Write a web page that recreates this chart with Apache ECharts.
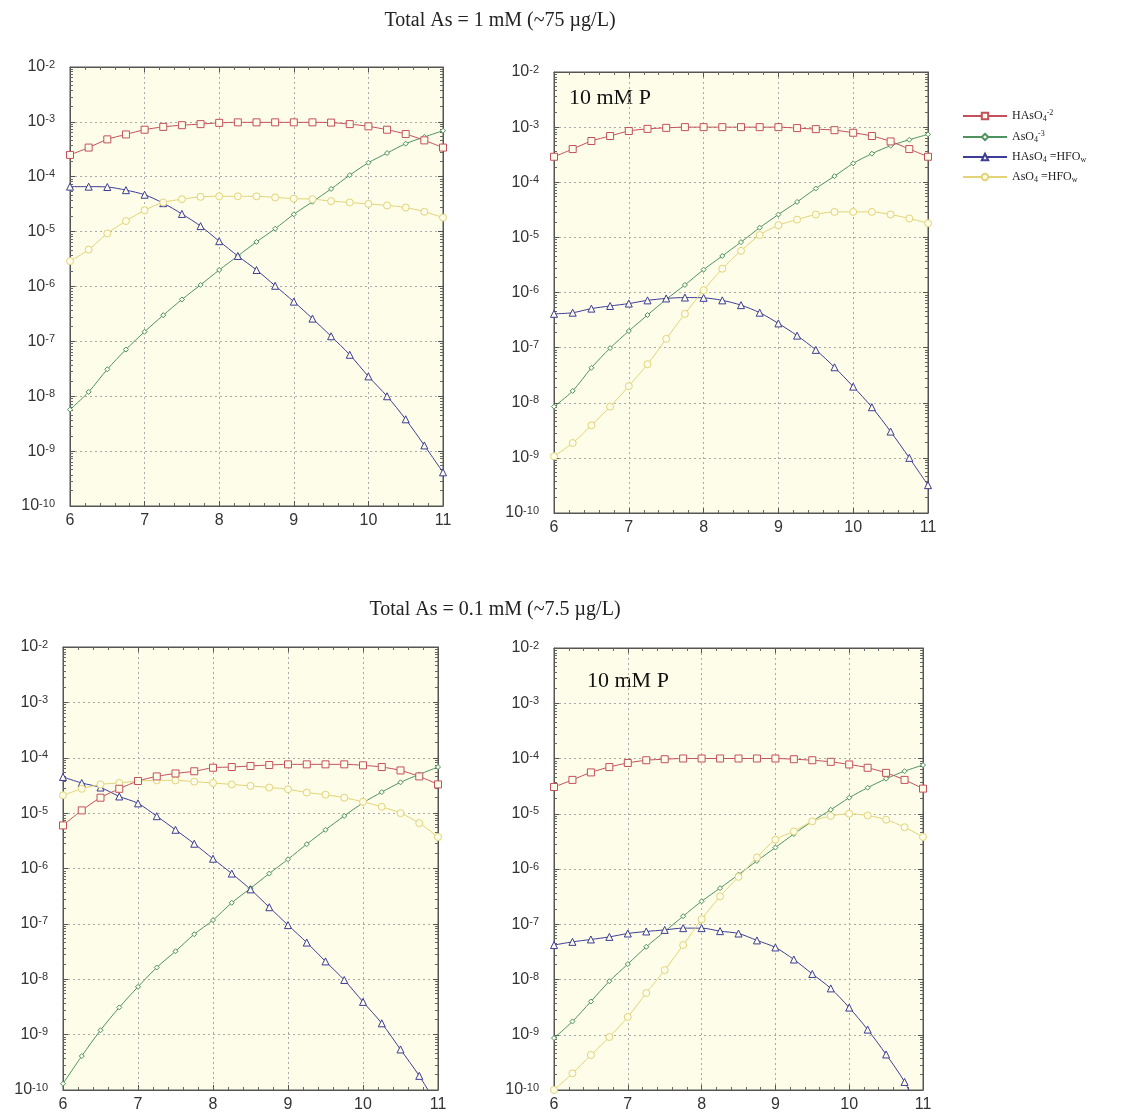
<!DOCTYPE html>
<html>
<head>
<meta charset="utf-8">
<script src="https://cdn.jsdelivr.net/npm/echarts@6/dist/echarts.min.js"></script>
<style>
html,body{margin:0;padding:0;background:#fff;}
#chart{width:1121px;height:1117px;}
</style>
</head>
<body>
<div id="chart"></div>
<script>
// pH values
const pH = [6, 6.25, 6.5, 6.75, 7, 7.25, 7.5, 7.75, 8, 8.25, 8.5, 8.75, 9, 9.25, 9.5, 9.75, 10, 10.25, 10.5, 10.75, 11];

const seriesNames = ['HAsO4-2', 'AsO4-3', 'HAsO4=HFOw', 'AsO4=HFOw'];
const panelTitles = ['Total As = 1 mM (~75 \u00b5g/L)', 'Total As = 0.1 mM (~7.5 \u00b5g/L)'];
const panelNote = '10 mM P';

// Panel 1: Total As = 1 mM, no P
const p1_HAsO4 = [2.5e-4, 3.4e-4, 4.8e-4, 5.9e-4, 7.2e-4, 8.1e-4, 8.7e-4, 9.1e-4, 9.6e-4, 9.8e-4, 9.8e-4, 9.8e-4, 9.8e-4, 9.8e-4, 9.7e-4, 9.1e-4, 8.3e-4, 7.2e-4, 6.0e-4, 4.6e-4, 3.4e-4];
const p1_AsO4 = [5.7e-9, 1.2e-8, 3.1e-8, 7.1e-8, 1.5e-7, 3.0e-7, 5.8e-7, 1.07e-6, 2.0e-6, 3.6e-6, 6.5e-6, 1.13e-5, 2.07e-5, 3.5e-5, 6.0e-5, 1.07e-4, 1.8e-4, 2.7e-4, 4.0e-4, 5.3e-4, 6.9e-4];
const p1_HAsO4_HFO = [6.6e-5, 6.6e-5, 6.5e-5, 5.7e-5, 4.7e-5, 3.3e-5, 2.1e-5, 1.26e-5, 6.7e-6, 3.6e-6, 2.0e-6, 1.03e-6, 5.3e-7, 2.6e-7, 1.24e-7, 5.7e-8, 2.3e-8, 1.0e-8, 3.8e-9, 1.27e-9, 4.1e-10];
const p1_AsO4_HFO = [2.9e-6, 4.7e-6, 9.3e-6, 1.56e-5, 2.45e-5, 3.4e-5, 3.9e-5, 4.3e-5, 4.4e-5, 4.4e-5, 4.4e-5, 4.2e-5, 4.0e-5, 3.9e-5, 3.6e-5, 3.4e-5, 3.2e-5, 3.0e-5, 2.75e-5, 2.3e-5, 1.8e-5];

// Panel 2: Total As = 1 mM, 10 mM P
const p2_HAsO4 = [2.9e-4, 4.0e-4, 5.6e-4, 6.9e-4, 8.5e-4, 9.3e-4, 9.7e-4, 1.0e-3, 1.0e-3, 1.0e-3, 1.0e-3, 1.0e-3, 1.0e-3, 9.6e-4, 9.2e-4, 8.8e-4, 7.9e-4, 6.9e-4, 5.5e-4, 4.0e-4, 2.9e-4];
const p2_AsO4 = [8.5e-9, 1.64e-8, 4.3e-8, 9.8e-8, 2.0e-7, 3.9e-7, 7.5e-7, 1.37e-6, 2.6e-6, 4.6e-6, 8.2e-6, 1.5e-5, 2.6e-5, 4.4e-5, 7.7e-5, 1.29e-4, 2.2e-4, 3.3e-4, 4.6e-4, 5.9e-4, 7.4e-4];
const p2_HAsO4_HFO = [4.1e-7, 4.3e-7, 5.1e-7, 5.7e-7, 6.3e-7, 7.2e-7, 7.8e-7, 8.1e-7, 8.0e-7, 7.2e-7, 5.9e-7, 4.3e-7, 2.75e-7, 1.65e-7, 9.1e-8, 4.4e-8, 1.96e-8, 8.3e-9, 3.0e-9, 1.0e-9, 3.2e-10];
const p2_AsO4_HFO = [1.07e-9, 1.86e-9, 3.9e-9, 8.5e-9, 2.0e-8, 5.0e-8, 1.44e-7, 4.1e-7, 1.1e-6, 2.7e-6, 5.7e-6, 1.1e-5, 1.66e-5, 2.1e-5, 2.6e-5, 2.9e-5, 2.9e-5, 2.9e-5, 2.6e-5, 2.2e-5, 1.8e-5];

// Panel 3: Total As = 0.1 mM, no P
const p3_HAsO4 = [6.0e-6, 1.12e-5, 1.9e-5, 2.75e-5, 3.8e-5, 4.6e-5, 5.2e-5, 5.7e-5, 6.6e-5, 6.8e-5, 7.1e-5, 7.4e-5, 7.6e-5, 7.6e-5, 7.6e-5, 7.6e-5, 7.3e-5, 6.8e-5, 5.9e-5, 4.6e-5, 3.3e-5];
const p3_AsO4 = [1.3e-10, 4.1e-10, 1.2e-9, 3.1e-9, 7.3e-9, 1.63e-8, 3.2e-8, 6.5e-8, 1.17e-7, 2.4e-7, 4.4e-7, 8.1e-7, 1.47e-6, 2.75e-6, 5.0e-6, 8.9e-6, 1.53e-5, 2.4e-5, 3.6e-5, 5.0e-5, 6.8e-5];
const p3_HAsO4_HFO = [4.5e-5, 3.5e-5, 2.9e-5, 2.0e-5, 1.5e-5, 8.8e-6, 5.0e-6, 2.8e-6, 1.5e-6, 8.1e-7, 4.2e-7, 2.0e-7, 9.5e-8, 4.6e-8, 2.1e-8, 9.7e-9, 3.9e-9, 1.6e-9, 5.4e-10, 1.8e-10, 5.0e-11];
const p3_AsO4_HFO = [2.1e-5, 2.75e-5, 3.3e-5, 3.5e-5, 3.8e-5, 3.9e-5, 3.9e-5, 3.7e-5, 3.5e-5, 3.3e-5, 3.1e-5, 2.9e-5, 2.7e-5, 2.35e-5, 2.15e-5, 1.9e-5, 1.6e-5, 1.3e-5, 1.0e-5, 6.6e-6, 3.7e-6];

// Panel 4: Total As = 0.1 mM, 10 mM P
const p4_HAsO4 = [3.05e-5, 4.1e-5, 5.6e-5, 7.0e-5, 8.3e-5, 9.3e-5, 9.7e-5, 1.0e-4, 1.0e-4, 1.0e-4, 1.0e-4, 1.0e-4, 1.0e-4, 9.7e-5, 9.3e-5, 8.7e-5, 7.8e-5, 6.8e-5, 5.5e-5, 4.1e-5, 2.85e-5];
const p4_AsO4 = [8.7e-10, 1.74e-9, 4.0e-9, 9.3e-9, 1.9e-8, 3.9e-8, 7.4e-8, 1.4e-7, 2.6e-7, 4.5e-7, 7.9e-7, 1.4e-6, 2.45e-6, 4.3e-6, 7.3e-6, 1.18e-5, 1.95e-5, 2.96e-5, 4.3e-5, 5.9e-5, 7.6e-5];
const p4_HAsO4_HFO = [4.2e-8, 4.8e-8, 5.3e-8, 5.9e-8, 6.8e-8, 7.4e-8, 7.9e-8, 8.5e-8, 8.5e-8, 7.5e-8, 6.8e-8, 5.1e-8, 3.8e-8, 2.3e-8, 1.26e-8, 6.9e-9, 3.1e-9, 1.24e-9, 4.4e-10, 1.4e-10, 3.0e-11];
const p4_AsO4_HFO = [1.0e-10, 2.0e-10, 4.3e-10, 9.1e-10, 2.1e-9, 5.7e-9, 1.48e-8, 4.2e-8, 1.23e-7, 3.2e-7, 7.2e-7, 1.62e-6, 3.4e-6, 4.8e-6, 7.3e-6, 9.1e-6, 1.0e-5, 9.3e-6, 7.8e-6, 5.7e-6, 3.8e-6];

const panels = [
  [p1_HAsO4, p1_AsO4, p1_HAsO4_HFO, p1_AsO4_HFO],
  [p2_HAsO4, p2_AsO4, p2_HAsO4_HFO, p2_AsO4_HFO],
  [p3_HAsO4, p3_AsO4, p3_HAsO4_HFO, p3_AsO4_HFO],
  [p4_HAsO4, p4_AsO4, p4_HAsO4_HFO, p4_AsO4_HFO]
];

// ---- styling ----
const lineColors = ['#c4505c', '#4e9262', '#3d3d98', '#e3d478'];
const symbols = ['rect', 'diamond', 'triangle', 'circle'];
const symbolSizes = [7, 5, 7, 7];
const plotBg = '#fdfde9';
const grids = [
  {left: 70, top: 67, width: 373, height: 439},
  {left: 554, top: 72, width: 374, height: 441},
  {left: 63, top: 647, width: 375, height: 443},
  {left: 554, top: 648, width: 369, height: 442}
];
const labelFont = 'Liberation Sans, Arial, sans-serif';
const serifFont = 'Liberation Serif, Times New Roman, serif';

const xAxes = [], yAxes = [], series = [];
grids.forEach((g, i) => {
  const common = {
    gridIndex: i,
    axisLine: {show: true, onZero: false, lineStyle: {color: '#555', width: 1}},
    axisTick: {show: true, inside: true, length: 5, lineStyle: {color: '#555'}},
    minorTick: {show: true, splitNumber: 5, length: 3, lineStyle: {color: '#666'}}
  };
  xAxes.push(Object.assign({}, common, {
    type: 'value', position: 'bottom', min: 6, max: 11, interval: 1,
    axisLabel: {show: true, color: '#333', fontSize: 16, fontFamily: labelFont, margin: 7},
    splitLine: {show: true, lineStyle: {color: '#aaa', type: [2, 3], width: 1}}
  }));
  xAxes.push(Object.assign({}, common, {
    type: 'value', position: 'top', min: 6, max: 11, interval: 1,
    axisLabel: {show: false}, splitLine: {show: false}
  }));
  const yCommon = Object.assign({}, common, {
    type: 'log', logBase: 10, min: 1e-10, max: 1e-2, interval: 1,
    minorTick: {show: true, splitNumber: 10, length: 3, lineStyle: {color: '#666'}}
  });
  yAxes.push(Object.assign({}, yCommon, {
    position: 'left',
    axisLabel: {
      show: true, color: '#333', fontSize: 16, fontFamily: labelFont, margin: 15,
      formatter: function (v) { return '10{s|' + Math.round(Math.log10(v)) + '}'; },
      rich: {s: {fontSize: 11, fontFamily: labelFont, color: '#333', verticalAlign: 'top', lineHeight: 10}}
    },
    splitLine: {show: true, lineStyle: {color: '#aaa', type: [2, 3], width: 1}}
  }));
  yAxes.push(Object.assign({}, yCommon, {
    position: 'right', axisLabel: {show: false}, splitLine: {show: false}
  }));
  panels[i].forEach((data, k) => {
    series.push({
      name: seriesNames[k],
      type: 'line',
      xAxisIndex: 2 * i,
      yAxisIndex: 2 * i,
      data: pH.map((x, j) => [x, data[j]]),
      smooth: 0.3,
      clip: true,
      symbol: symbols[k],
      symbolSize: symbolSizes[k],
      showSymbol: true,
      lineStyle: {color: lineColors[k], width: 1},
      itemStyle: {color: plotBg, borderColor: lineColors[k], borderWidth: 1},
      emphasis: {disabled: true},
      z: 3 + (k === 0 ? 1 : 0)
    });
  });
});

const legendRich = {
  b: {fontSize: 12, fontFamily: serifFont, color: '#222', lineHeight: 14},
  sub: {fontSize: 8, fontFamily: serifFont, color: '#222', verticalAlign: 'bottom', lineHeight: 9},
  sup: {fontSize: 8, fontFamily: serifFont, color: '#222', verticalAlign: 'top', lineHeight: 9}
};
const legendLabels = {
  'HAsO4-2': '{b|HAsO}{sub|4}{sup|-2}',
  'AsO4-3': '{b|AsO}{sub|4}{sup|-3}',
  'HAsO4=HFOw': '{b|HAsO}{sub|4}{b| =HFO}{sub|w}',
  'AsO4=HFOw': '{b|AsO}{sub|4}{b| =HFO}{sub|w}'
};

const option = {
  backgroundColor: '#ffffff',
  animation: false,
  title: [
    {text: panelTitles[0], left: 495, top: 6, textAlign: 'center',
     textStyle: {fontFamily: serifFont, fontSize: 20, fontWeight: 'normal', color: '#222'}},
    {text: panelTitles[1], left: 490, top: 595, textAlign: 'center',
     textStyle: {fontFamily: serifFont, fontSize: 20, fontWeight: 'normal', color: '#222'}}
  ],
  legend: {
    orient: 'vertical', left: 957, top: 104,
    itemWidth: 44, itemHeight: 8, itemGap: 7,
    data: seriesNames,
    selectedMode: false,
    formatter: function (name) { return legendLabels[name]; },
    textStyle: {fontFamily: serifFont, fontSize: 12, color: '#222', rich: legendRich}
  },
  grid: grids.map(g => Object.assign({show: true, backgroundColor: plotBg, borderColor: '#555', borderWidth: 1}, g)),
  xAxis: xAxes,
  yAxis: yAxes,
  series: series,
  graphic: [
    {type: 'text', left: 569, top: 87, style: {text: panelNote, font: '22px ' + serifFont, fill: '#111'}},
    {type: 'text', left: 587, top: 670, style: {text: panelNote, font: '22px ' + serifFont, fill: '#111'}}
  ]
};

const chart = echarts.init(document.getElementById('chart'), null, {renderer: 'canvas'});
chart.setOption(option);
</script>
</body>
</html>
